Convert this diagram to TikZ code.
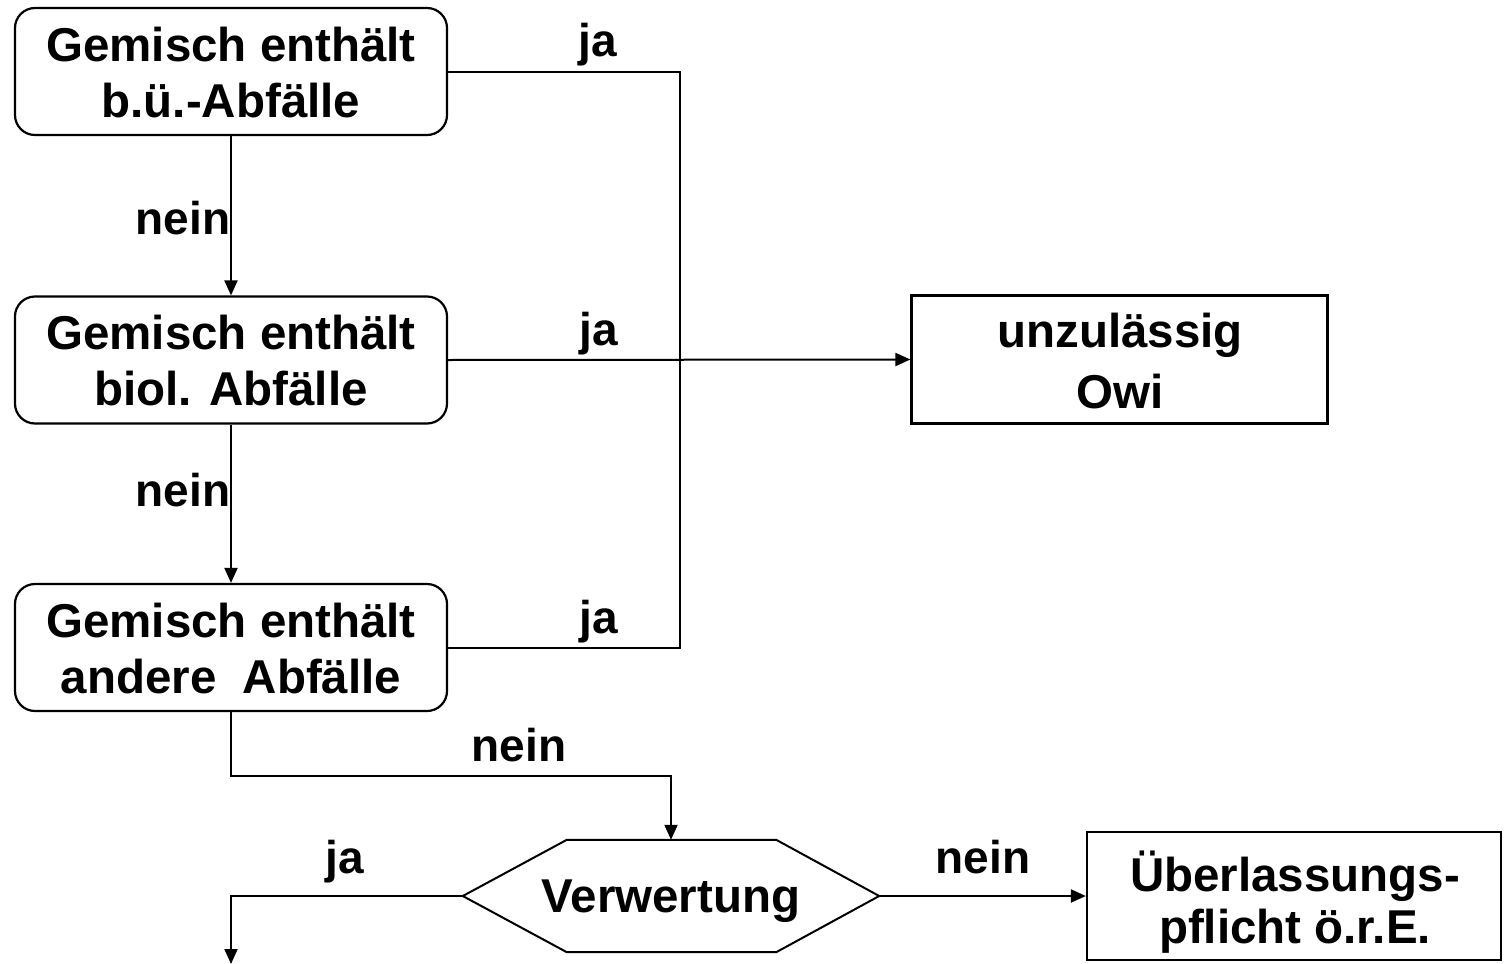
\documentclass[tikz,border=0pt]{standalone}
\usepackage{fontspec}
\setmainfont{Liberation Sans}
\usetikzlibrary{arrows.meta}
\tikzset{
  rbox/.style={draw, line width=2.2pt, rounded corners=20pt, minimum width=432pt, minimum height=127pt, inner sep=0pt},
  sbox/.style={draw, line width=2.2pt, minimum width=416pt, minimum height=127pt, inner sep=0pt},
  btxt/.style={anchor=base, inner sep=0pt, font=\fontsize{47.5}{56}\selectfont\bfseries},
  lbl/.style={anchor=base, inner sep=0pt, font=\fontsize{46}{54}\selectfont\bfseries},
  conn/.style={line width=2pt},
  arr/.style={line width=2pt, -{Triangle[length=15pt,width=13pt]}}
}
\begin{document}
\begin{tikzpicture}[x=1pt,y=-1pt]
\useasboundingbox[fill=white] (0,0) rectangle (1505,964);
% boxes
\node[rbox] (b1) at (231,71.5) {};
\node[rbox] (b2) at (231,360) {};
\node[rbox] (b3) at (231,647.5) {};
\node[sbox] (owi) at (1119.5,359.5) [minimum height=128pt] {};
\node[sbox] (ueb) at (1294,896) [minimum width=414pt, minimum height=128pt] {};
\node[inner sep=0pt, minimum width=416pt, minimum height=112pt, text depth=0pt,
      font=\fontsize{47.5}{56}\selectfont\bfseries] (verw) at (671,896) {Verwertung};
\draw[line width=2pt] (verw.west) -- ([xshift=104pt]verw.north west) -- ([xshift=-103pt]verw.north east)
  -- (verw.east) -- ([xshift=-103pt]verw.south east) -- ([xshift=104pt]verw.south west) -- cycle;
% box texts
\node[btxt] (t1a) at (231,61) {Gemisch enthält};
\node[btxt] (t1b) at (231,117) {b.ü.-Abfälle};
\node[btxt] (t2a) at (231,349) {Gemisch enthält};
\node[btxt] (t2b) at (231,405) {biol. Abfälle};
\node[btxt] (t3a) at (231,637) {Gemisch enthält};
\node[btxt] (t3b) at (231,693) {andere\ \ Abfälle};
\node[btxt] (towa) at (1120,347) {unzulässig};
\node[btxt] (towb) at (1120,408) {Owi};
\node[btxt] (tuea) at (1295,891) {Überlassungs-};
\node[btxt] (tueb) at (1295,943) {pflicht ö.r.E.};
% connectors
\coordinate (endpt) at (231,964);
\draw[conn] (b1.east) -- ++(232,0) |- (b3.east);
\draw[arr] (b2.east) -- (owi.west);
\draw[arr] (b1.south) -- (b2.north);
\draw[arr] (b2.south) -- (b3.north);
\draw[arr] (b3.south) -- ++(0,64) -| (verw.north);
\draw[arr] (verw.west) -| (endpt);
\draw[arr] (verw.east) -- (ueb.west);
% labels
\node[lbl] (l1) at (598,56) {ja};
\node[lbl] (l2) at (599,345) {ja};
\node[lbl] (l3) at (599,633) {ja};
\node[lbl] (l4) at (183,234) {nein};
\node[lbl] (l5) at (183,506) {nein};
\node[lbl] (l6) at (519,761) {nein};
\node[lbl] (l7) at (345,873) {ja};
\node[lbl] (l8) at (983,873) {nein};
\end{tikzpicture}
\end{document}
